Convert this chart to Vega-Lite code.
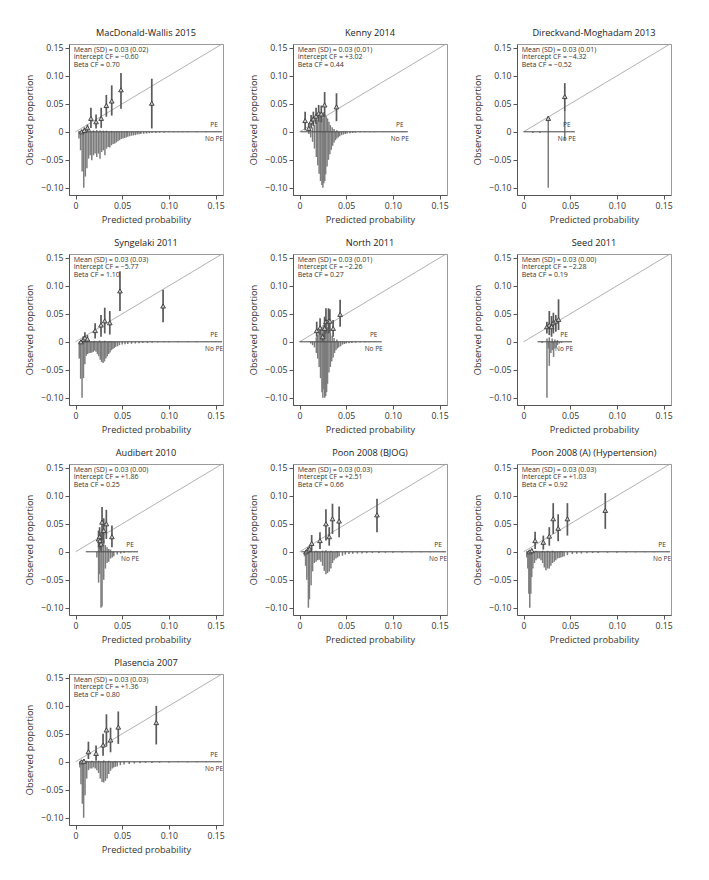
{
"$schema":"https://vega.github.io/schema/vega-lite/v6.json",
"padding":{"left":25,"top":28,"right":5,"bottom":5},
"datasets":{
"names":[
{"s":1,"study":"MacDonald-Wallis 2015"},{"s":2,"study":"Kenny 2014"},{"s":3,"study":"Direckvand-Moghadam 2013"},{"s":4,"study":"Syngelaki 2011"},{"s":5,"study":"North 2011"},{"s":6,"study":"Seed 2011"},{"s":7,"study":"Audibert 2010"},{"s":8,"study":"Poon 2008 (BJOG)"},{"s":9,"study":"Poon 2008 (A) (Hypertension)"},{"s":10,"study":"Plasencia 2007"}],
"main":[
{"s":1,"t":"s","x0":0.003,"x1":0.157,"note":"Mean (SD) = 0.03 (0.02)\nIntercept CF = −0.60\nBeta CF = 0.70"},
{"s":2,"t":"s","x0":0.001,"x1":0.116,"note":"Mean (SD) = 0.03 (0.01)\nIntercept CF = +3.02\nBeta CF = 0.44"},
{"s":3,"t":"s","x0":0.0,"x1":0.055,"note":"Mean (SD) = 0.03 (0.01)\nIntercept CF = −4.32\nBeta CF = −0.52"},
{"s":4,"t":"s","x0":0.004,"x1":0.157,"note":"Mean (SD) = 0.03 (0.03)\nIntercept CF = −5.77\nBeta CF = 1.10"},
{"s":5,"t":"s","x0":0.0,"x1":0.088,"note":"Mean (SD) = 0.03 (0.01)\nIntercept CF = −2.26\nBeta CF = 0.27"},
{"s":6,"t":"s","x0":0.015,"x1":0.052,"note":"Mean (SD) = 0.03 (0.00)\nIntercept CF = −2.28\nBeta CF = 0.19"},
{"s":7,"t":"s","x0":0.011,"x1":0.067,"note":"Mean (SD) = 0.03 (0.00)\nIntercept CF = +1.86\nBeta CF = 0.25"},
{"s":8,"t":"s","x0":0.002,"x1":0.157,"note":"Mean (SD) = 0.03 (0.03)\nIntercept CF = +2.51\nBeta CF = 0.66"},
{"s":9,"t":"s","x0":0.003,"x1":0.157,"note":"Mean (SD) = 0.03 (0.03)\nIntercept CF = +1.03\nBeta CF = 0.92"},
{"s":10,"t":"s","x0":0.004,"x1":0.157,"note":"Mean (SD) = 0.03 (0.03)\nIntercept CF = +1.36\nBeta CF = 0.80"},

{"s":1,"t":"p","x":0.0066,"y":0.0,"lo":0.0,"hi":0.004},
{"s":1,"t":"p","x":0.0095,"y":0.0024,"lo":0.0,"hi":0.008},
{"s":1,"t":"p","x":0.0128,"y":0.0072,"lo":0.0,"hi":0.013},
{"s":1,"t":"p","x":0.0165,"y":0.024,"lo":0.007,"hi":0.043},
{"s":1,"t":"p","x":0.022,"y":0.018,"lo":0.006,"hi":0.031},
{"s":1,"t":"p","x":0.0275,"y":0.024,"lo":0.007,"hi":0.043},
{"s":1,"t":"p","x":0.033,"y":0.047,"lo":0.027,"hi":0.066},
{"s":1,"t":"p","x":0.0388,"y":0.055,"lo":0.029,"hi":0.083},
{"s":1,"t":"p","x":0.0487,"y":0.075,"lo":0.041,"hi":0.105},
{"s":1,"t":"p","x":0.0817,"y":0.051,"lo":0.006,"hi":0.095},

{"s":2,"t":"p","x":0.006,"y":0.02,"lo":0.003,"hi":0.036},
{"s":2,"t":"p","x":0.0099,"y":0.006,"lo":0.0,"hi":0.015},
{"s":2,"t":"p","x":0.0124,"y":0.018,"lo":0.006,"hi":0.03},
{"s":2,"t":"p","x":0.0148,"y":0.023,"lo":0.01,"hi":0.036},
{"s":2,"t":"p","x":0.0177,"y":0.028,"lo":0.014,"hi":0.043},
{"s":2,"t":"p","x":0.0205,"y":0.033,"lo":0.018,"hi":0.048},
{"s":2,"t":"p","x":0.0233,"y":0.032,"lo":0.017,"hi":0.047},
{"s":2,"t":"p","x":0.0269,"y":0.048,"lo":0.026,"hi":0.071},
{"s":2,"t":"p","x":0.0396,"y":0.0446,"lo":0.019,"hi":0.069},

{"s":3,"t":"p","x":0.0265,"y":0.024,"lo":0.019,"hi":0.028},
{"s":3,"t":"p","x":0.0442,"y":0.063,"lo":0.036,"hi":0.087},

{"s":4,"t":"p","x":0.0058,"y":0.0,"lo":0.0,"hi":0.003},
{"s":4,"t":"p","x":0.0084,"y":0.004,"lo":0.0,"hi":0.01},
{"s":4,"t":"p","x":0.010,"y":0.007,"lo":0.0,"hi":0.017},
{"s":4,"t":"p","x":0.0127,"y":0.005,"lo":0.0,"hi":0.012},
{"s":4,"t":"p","x":0.021,"y":0.02,"lo":0.006,"hi":0.033},
{"s":4,"t":"p","x":0.0273,"y":0.03,"lo":0.009,"hi":0.048},
{"s":4,"t":"p","x":0.0313,"y":0.0375,"lo":0.015,"hi":0.061},
{"s":4,"t":"p","x":0.0367,"y":0.034,"lo":0.013,"hi":0.055},
{"s":4,"t":"p","x":0.0476,"y":0.091,"lo":0.055,"hi":0.126},
{"s":4,"t":"p","x":0.0938,"y":0.064,"lo":0.035,"hi":0.093},

{"s":5,"t":"p","x":0.0184,"y":0.02,"lo":0.009,"hi":0.036},
{"s":5,"t":"p","x":0.022,"y":0.025,"lo":0.012,"hi":0.042},
{"s":5,"t":"p","x":0.0247,"y":0.009,"lo":0.001,"hi":0.015},
{"s":5,"t":"p","x":0.0269,"y":0.024,"lo":0.006,"hi":0.045},
{"s":5,"t":"p","x":0.0283,"y":0.036,"lo":0.015,"hi":0.06},
{"s":5,"t":"p","x":0.031,"y":0.037,"lo":0.015,"hi":0.06},
{"s":5,"t":"p","x":0.0325,"y":0.037,"lo":0.016,"hi":0.058},
{"s":5,"t":"p","x":0.036,"y":0.024,"lo":0.009,"hi":0.039},
{"s":5,"t":"p","x":0.0435,"y":0.049,"lo":0.027,"hi":0.075},

{"s":6,"t":"p","x":0.025,"y":0.027,"lo":0.015,"hi":0.036},
{"s":6,"t":"p","x":0.0276,"y":0.03,"lo":0.012,"hi":0.055},
{"s":6,"t":"p","x":0.03,"y":0.027,"lo":0.009,"hi":0.046},
{"s":6,"t":"p","x":0.032,"y":0.034,"lo":0.015,"hi":0.052},
{"s":6,"t":"p","x":0.0346,"y":0.037,"lo":0.018,"hi":0.048},
{"s":6,"t":"p","x":0.0375,"y":0.04,"lo":0.021,"hi":0.076},

{"s":7,"t":"p","x":0.0247,"y":0.023,"lo":0.008,"hi":0.038},
{"s":7,"t":"p","x":0.0258,"y":0.027,"lo":0.011,"hi":0.044},
{"s":7,"t":"p","x":0.0262,"y":0.02,"lo":0.006,"hi":0.035},
{"s":7,"t":"p","x":0.0273,"y":0.014,"lo":0.002,"hi":0.026},
{"s":7,"t":"p","x":0.0284,"y":0.053,"lo":0.02,"hi":0.08},
{"s":7,"t":"p","x":0.0302,"y":0.038,"lo":0.015,"hi":0.06},
{"s":7,"t":"p","x":0.033,"y":0.05,"lo":0.023,"hi":0.075},
{"s":7,"t":"p","x":0.039,"y":0.027,"lo":0.008,"hi":0.047},

{"s":8,"t":"p","x":0.007,"y":0.0,"lo":0.0,"hi":0.003},
{"s":8,"t":"p","x":0.0088,"y":0.003,"lo":0.0,"hi":0.008},
{"s":8,"t":"p","x":0.0106,"y":0.005,"lo":0.0,"hi":0.011},
{"s":8,"t":"p","x":0.013,"y":0.015,"lo":0.002,"hi":0.03},
{"s":8,"t":"p","x":0.0219,"y":0.02,"lo":0.005,"hi":0.035},
{"s":8,"t":"p","x":0.0283,"y":0.05,"lo":0.02,"hi":0.076},
{"s":8,"t":"p","x":0.0318,"y":0.027,"lo":0.011,"hi":0.044},
{"s":8,"t":"p","x":0.0353,"y":0.059,"lo":0.032,"hi":0.086},
{"s":8,"t":"p","x":0.0424,"y":0.055,"lo":0.026,"hi":0.081},
{"s":8,"t":"p","x":0.083,"y":0.066,"lo":0.035,"hi":0.095},

{"s":9,"t":"p","x":0.0064,"y":0.0,"lo":0.0,"hi":0.003},
{"s":9,"t":"p","x":0.0088,"y":0.002,"lo":0.0,"hi":0.006},
{"s":9,"t":"p","x":0.0124,"y":0.02,"lo":0.005,"hi":0.036},
{"s":9,"t":"p","x":0.0212,"y":0.017,"lo":0.004,"hi":0.029},
{"s":9,"t":"p","x":0.0276,"y":0.028,"lo":0.011,"hi":0.044},
{"s":9,"t":"p","x":0.0318,"y":0.059,"lo":0.032,"hi":0.087},
{"s":9,"t":"p","x":0.0371,"y":0.042,"lo":0.019,"hi":0.067},
{"s":9,"t":"p","x":0.047,"y":0.059,"lo":0.029,"hi":0.087},
{"s":9,"t":"p","x":0.0876,"y":0.074,"lo":0.041,"hi":0.105},

{"s":10,"t":"p","x":0.0065,"y":0.0,"lo":0.0,"hi":0.003},
{"s":10,"t":"p","x":0.009,"y":0.001,"lo":0.0,"hi":0.005},
{"s":10,"t":"p","x":0.0138,"y":0.018,"lo":0.005,"hi":0.036},
{"s":10,"t":"p","x":0.022,"y":0.015,"lo":0.002,"hi":0.029},
{"s":10,"t":"p","x":0.0295,"y":0.03,"lo":0.011,"hi":0.05},
{"s":10,"t":"p","x":0.0331,"y":0.057,"lo":0.027,"hi":0.085},
{"s":10,"t":"p","x":0.0375,"y":0.039,"lo":0.017,"hi":0.061},
{"s":10,"t":"p","x":0.0458,"y":0.062,"lo":0.032,"hi":0.09},
{"s":10,"t":"p","x":0.0865,"y":0.07,"lo":0.031,"hi":0.1},

{"s":1,"t":"h","x":0.0037,"h":-0.012},{"s":1,"t":"h","x":0.0054,"h":-0.033},{"s":1,"t":"h","x":0.0071,"h":-0.071},{"s":1,"t":"h","x":0.0088,"h":-0.1},{"s":1,"t":"h","x":0.0105,"h":-0.08},{"s":1,"t":"h","x":0.0122,"h":-0.065},{"s":1,"t":"h","x":0.014,"h":-0.048},{"s":1,"t":"h","x":0.0157,"h":-0.042},{"s":1,"t":"h","x":0.0174,"h":-0.051},{"s":1,"t":"h","x":0.0192,"h":-0.042},{"s":1,"t":"h","x":0.0209,"h":-0.039},{"s":1,"t":"h","x":0.0227,"h":-0.045},{"s":1,"t":"h","x":0.0245,"h":-0.039},{"s":1,"t":"h","x":0.0262,"h":-0.048},{"s":1,"t":"h","x":0.028,"h":-0.036},{"s":1,"t":"h","x":0.0297,"h":-0.033},{"s":1,"t":"h","x":0.0315,"h":-0.042},{"s":1,"t":"h","x":0.0332,"h":-0.03},{"s":1,"t":"h","x":0.035,"h":-0.027},{"s":1,"t":"h","x":0.0367,"h":-0.028},{"s":1,"t":"h","x":0.0385,"h":-0.024},{"s":1,"t":"h","x":0.0402,"h":-0.022},{"s":1,"t":"h","x":0.042,"h":-0.021},{"s":1,"t":"h","x":0.0437,"h":-0.019},{"s":1,"t":"h","x":0.0455,"h":-0.017},{"s":1,"t":"h","x":0.0472,"h":-0.015},{"s":1,"t":"h","x":0.049,"h":-0.013},{"s":1,"t":"h","x":0.0508,"h":-0.012},{"s":1,"t":"h","x":0.0525,"h":-0.011},{"s":1,"t":"h","x":0.0543,"h":-0.01},{"s":1,"t":"h","x":0.056,"h":-0.009},{"s":1,"t":"h","x":0.058,"h":-0.008},{"s":1,"t":"h","x":0.06,"h":-0.007},{"s":1,"t":"h","x":0.062,"h":-0.0065},{"s":1,"t":"h","x":0.064,"h":-0.006},{"s":1,"t":"h","x":0.066,"h":-0.005},{"s":1,"t":"h","x":0.068,"h":-0.0045},{"s":1,"t":"h","x":0.07,"h":-0.004},{"s":1,"t":"h","x":0.073,"h":-0.0035},{"s":1,"t":"h","x":0.076,"h":-0.003},{"s":1,"t":"h","x":0.079,"h":-0.0025},{"s":1,"t":"h","x":0.082,"h":-0.002},{"s":1,"t":"h","x":0.086,"h":-0.002},{"s":1,"t":"h","x":0.09,"h":-0.0015},{"s":1,"t":"h","x":0.095,"h":-0.0015},{"s":1,"t":"h","x":0.1,"h":-0.001},{"s":1,"t":"h","x":0.105,"h":-0.001},{"s":1,"t":"h","x":0.11,"h":-0.001},{"s":1,"t":"h","x":0.115,"h":-0.0008},{"s":1,"t":"h","x":0.12,"h":-0.0008},{"s":1,"t":"h","x":0.13,"h":-0.0006},{"s":1,"t":"h","x":0.14,"h":-0.0006},{"s":1,"t":"h","x":0.15,"h":-0.0005},
{"s":1,"t":"h","x":0.0088,"h":0.002},{"s":1,"t":"h","x":0.0122,"h":0.0025},{"s":1,"t":"h","x":0.0157,"h":0.003},{"s":1,"t":"h","x":0.0192,"h":0.0025},{"s":1,"t":"h","x":0.0227,"h":0.003},{"s":1,"t":"h","x":0.0262,"h":0.0025},{"s":1,"t":"h","x":0.0297,"h":0.002},{"s":1,"t":"h","x":0.0332,"h":0.002},{"s":1,"t":"h","x":0.0385,"h":0.0015},{"s":1,"t":"h","x":0.045,"h":0.001},{"s":1,"t":"h","x":0.055,"h":0.001},

{"s":2,"t":"h","x":0.01,"h":-0.004},{"s":2,"t":"h","x":0.012,"h":-0.01},{"s":2,"t":"h","x":0.014,"h":-0.018},{"s":2,"t":"h","x":0.016,"h":-0.03},{"s":2,"t":"h","x":0.018,"h":-0.045},{"s":2,"t":"h","x":0.0195,"h":-0.06},{"s":2,"t":"h","x":0.021,"h":-0.075},{"s":2,"t":"h","x":0.0225,"h":-0.088},{"s":2,"t":"h","x":0.024,"h":-0.095},{"s":2,"t":"h","x":0.025,"h":-0.1},{"s":2,"t":"h","x":0.026,"h":-0.092},{"s":2,"t":"h","x":0.027,"h":-0.088},{"s":2,"t":"h","x":0.028,"h":-0.076},{"s":2,"t":"h","x":0.0295,"h":-0.062},{"s":2,"t":"h","x":0.031,"h":-0.05},{"s":2,"t":"h","x":0.0325,"h":-0.04},{"s":2,"t":"h","x":0.034,"h":-0.032},{"s":2,"t":"h","x":0.0355,"h":-0.025},{"s":2,"t":"h","x":0.037,"h":-0.019},{"s":2,"t":"h","x":0.0385,"h":-0.015},{"s":2,"t":"h","x":0.04,"h":-0.012},{"s":2,"t":"h","x":0.0415,"h":-0.01},{"s":2,"t":"h","x":0.043,"h":-0.008},{"s":2,"t":"h","x":0.045,"h":-0.006},{"s":2,"t":"h","x":0.047,"h":-0.005},{"s":2,"t":"h","x":0.049,"h":-0.004},{"s":2,"t":"h","x":0.051,"h":-0.003},{"s":2,"t":"h","x":0.054,"h":-0.0025},{"s":2,"t":"h","x":0.057,"h":-0.002},{"s":2,"t":"h","x":0.06,"h":-0.0015},{"s":2,"t":"h","x":0.065,"h":-0.001},{"s":2,"t":"h","x":0.07,"h":-0.001},{"s":2,"t":"h","x":0.075,"h":-0.0008},{"s":2,"t":"h","x":0.08,"h":-0.0006},{"s":2,"t":"h","x":0.09,"h":-0.0005},{"s":2,"t":"h","x":0.1,"h":-0.0004},{"s":2,"t":"h","x":0.11,"h":-0.0003},
{"s":2,"t":"h","x":0.014,"h":0.008},{"s":2,"t":"h","x":0.016,"h":0.012},{"s":2,"t":"h","x":0.018,"h":0.018},{"s":2,"t":"h","x":0.0195,"h":0.022},{"s":2,"t":"h","x":0.021,"h":0.026},{"s":2,"t":"h","x":0.0225,"h":0.03},{"s":2,"t":"h","x":0.024,"h":0.033},{"s":2,"t":"h","x":0.0255,"h":0.035},{"s":2,"t":"h","x":0.027,"h":0.032},{"s":2,"t":"h","x":0.0285,"h":0.028},{"s":2,"t":"h","x":0.03,"h":0.024},{"s":2,"t":"h","x":0.0315,"h":0.018},{"s":2,"t":"h","x":0.033,"h":0.012},{"s":2,"t":"h","x":0.035,"h":0.008},{"s":2,"t":"h","x":0.037,"h":0.005},{"s":2,"t":"h","x":0.04,"h":0.003},

{"s":3,"t":"h","x":0.01,"h":-0.002},{"s":3,"t":"h","x":0.0175,"h":-0.002},{"s":3,"t":"h","x":0.0265,"h":-0.1},{"s":3,"t":"h","x":0.0442,"h":-0.015},{"s":3,"t":"h","x":0.0265,"h":0.02},{"s":3,"t":"h","x":0.0442,"h":0.036},

{"s":4,"t":"h","x":0.004,"h":-0.03},{"s":4,"t":"h","x":0.0055,"h":-0.066},{"s":4,"t":"h","x":0.007,"h":-0.1},{"s":4,"t":"h","x":0.0085,"h":-0.065},{"s":4,"t":"h","x":0.01,"h":-0.04},{"s":4,"t":"h","x":0.0115,"h":-0.025},{"s":4,"t":"h","x":0.013,"h":-0.022},{"s":4,"t":"h","x":0.0145,"h":-0.02},{"s":4,"t":"h","x":0.016,"h":-0.02},{"s":4,"t":"h","x":0.0175,"h":-0.019},{"s":4,"t":"h","x":0.019,"h":-0.018},{"s":4,"t":"h","x":0.0205,"h":-0.016},{"s":4,"t":"h","x":0.022,"h":-0.018},{"s":4,"t":"h","x":0.0235,"h":-0.022},{"s":4,"t":"h","x":0.025,"h":-0.026},{"s":4,"t":"h","x":0.0265,"h":-0.032},{"s":4,"t":"h","x":0.028,"h":-0.036},{"s":4,"t":"h","x":0.0295,"h":-0.038},{"s":4,"t":"h","x":0.031,"h":-0.035},{"s":4,"t":"h","x":0.0325,"h":-0.03},{"s":4,"t":"h","x":0.034,"h":-0.026},{"s":4,"t":"h","x":0.0355,"h":-0.022},{"s":4,"t":"h","x":0.037,"h":-0.019},{"s":4,"t":"h","x":0.0385,"h":-0.015},{"s":4,"t":"h","x":0.04,"h":-0.013},{"s":4,"t":"h","x":0.0415,"h":-0.011},{"s":4,"t":"h","x":0.043,"h":-0.009},{"s":4,"t":"h","x":0.045,"h":-0.008},{"s":4,"t":"h","x":0.047,"h":-0.006},{"s":4,"t":"h","x":0.05,"h":-0.005},{"s":4,"t":"h","x":0.053,"h":-0.0045},{"s":4,"t":"h","x":0.056,"h":-0.004},{"s":4,"t":"h","x":0.06,"h":-0.0035},{"s":4,"t":"h","x":0.064,"h":-0.003},{"s":4,"t":"h","x":0.068,"h":-0.0025},{"s":4,"t":"h","x":0.072,"h":-0.002},{"s":4,"t":"h","x":0.077,"h":-0.002},{"s":4,"t":"h","x":0.082,"h":-0.0015},{"s":4,"t":"h","x":0.088,"h":-0.0012},{"s":4,"t":"h","x":0.095,"h":-0.001},{"s":4,"t":"h","x":0.1,"h":-0.001},{"s":4,"t":"h","x":0.11,"h":-0.0008},{"s":4,"t":"h","x":0.12,"h":-0.0007},{"s":4,"t":"h","x":0.13,"h":-0.0006},{"s":4,"t":"h","x":0.14,"h":-0.0005},{"s":4,"t":"h","x":0.15,"h":-0.0005},
{"s":4,"t":"h","x":0.007,"h":0.002},{"s":4,"t":"h","x":0.01,"h":0.003},{"s":4,"t":"h","x":0.013,"h":0.002},{"s":4,"t":"h","x":0.02,"h":0.002},{"s":4,"t":"h","x":0.026,"h":0.0025},{"s":4,"t":"h","x":0.031,"h":0.002},{"s":4,"t":"h","x":0.037,"h":0.0015},{"s":4,"t":"h","x":0.045,"h":0.001},

{"s":5,"t":"h","x":0.012,"h":-0.003},{"s":5,"t":"h","x":0.014,"h":-0.006},{"s":5,"t":"h","x":0.016,"h":-0.01},{"s":5,"t":"h","x":0.018,"h":-0.02},{"s":5,"t":"h","x":0.0195,"h":-0.03},{"s":5,"t":"h","x":0.021,"h":-0.045},{"s":5,"t":"h","x":0.0225,"h":-0.065},{"s":5,"t":"h","x":0.024,"h":-0.09},{"s":5,"t":"h","x":0.025,"h":-0.1},{"s":5,"t":"h","x":0.026,"h":-0.085},{"s":5,"t":"h","x":0.027,"h":-0.1},{"s":5,"t":"h","x":0.028,"h":-0.097},{"s":5,"t":"h","x":0.029,"h":-0.09},{"s":5,"t":"h","x":0.03,"h":-0.075},{"s":5,"t":"h","x":0.0315,"h":-0.055},{"s":5,"t":"h","x":0.033,"h":-0.045},{"s":5,"t":"h","x":0.0345,"h":-0.035},{"s":5,"t":"h","x":0.036,"h":-0.028},{"s":5,"t":"h","x":0.0375,"h":-0.02},{"s":5,"t":"h","x":0.039,"h":-0.015},{"s":5,"t":"h","x":0.0405,"h":-0.012},{"s":5,"t":"h","x":0.042,"h":-0.01},{"s":5,"t":"h","x":0.044,"h":-0.008},{"s":5,"t":"h","x":0.046,"h":-0.005},{"s":5,"t":"h","x":0.048,"h":-0.004},{"s":5,"t":"h","x":0.05,"h":-0.003},{"s":5,"t":"h","x":0.053,"h":-0.0025},{"s":5,"t":"h","x":0.056,"h":-0.002},{"s":5,"t":"h","x":0.06,"h":-0.0015},{"s":5,"t":"h","x":0.065,"h":-0.001},{"s":5,"t":"h","x":0.07,"h":-0.0008},{"s":5,"t":"h","x":0.075,"h":-0.0006},{"s":5,"t":"h","x":0.08,"h":-0.0005},
{"s":5,"t":"h","x":0.018,"h":0.008},{"s":5,"t":"h","x":0.0195,"h":0.012},{"s":5,"t":"h","x":0.021,"h":0.017},{"s":5,"t":"h","x":0.0225,"h":0.022},{"s":5,"t":"h","x":0.024,"h":0.027},{"s":5,"t":"h","x":0.0255,"h":0.03},{"s":5,"t":"h","x":0.027,"h":0.032},{"s":5,"t":"h","x":0.0285,"h":0.03},{"s":5,"t":"h","x":0.03,"h":0.026},{"s":5,"t":"h","x":0.0315,"h":0.021},{"s":5,"t":"h","x":0.033,"h":0.016},{"s":5,"t":"h","x":0.035,"h":0.011},{"s":5,"t":"h","x":0.037,"h":0.007},{"s":5,"t":"h","x":0.04,"h":0.004},

{"s":6,"t":"h","x":0.02,"h":-0.002},{"s":6,"t":"h","x":0.0251,"h":-0.1},{"s":6,"t":"h","x":0.0265,"h":-0.012},{"s":6,"t":"h","x":0.0276,"h":-0.043},{"s":6,"t":"h","x":0.0293,"h":-0.02},{"s":6,"t":"h","x":0.0307,"h":-0.015},{"s":6,"t":"h","x":0.0322,"h":-0.027},{"s":6,"t":"h","x":0.0336,"h":-0.012},{"s":6,"t":"h","x":0.035,"h":-0.008},{"s":6,"t":"h","x":0.0364,"h":-0.006},{"s":6,"t":"h","x":0.0382,"h":-0.003},{"s":6,"t":"h","x":0.0406,"h":-0.002},
{"s":6,"t":"h","x":0.0251,"h":0.006},{"s":6,"t":"h","x":0.0276,"h":0.008},{"s":6,"t":"h","x":0.0307,"h":0.006},{"s":6,"t":"h","x":0.0336,"h":0.004},{"s":6,"t":"h","x":0.0364,"h":0.003},

{"s":7,"t":"h","x":0.0229,"h":-0.01},{"s":7,"t":"h","x":0.0247,"h":-0.055},{"s":7,"t":"h","x":0.0258,"h":-0.04},{"s":7,"t":"h","x":0.0273,"h":-0.1},{"s":7,"t":"h","x":0.0284,"h":-0.098},{"s":7,"t":"h","x":0.0302,"h":-0.05},{"s":7,"t":"h","x":0.032,"h":-0.03},{"s":7,"t":"h","x":0.0338,"h":-0.02},{"s":7,"t":"h","x":0.0356,"h":-0.018},{"s":7,"t":"h","x":0.0375,"h":-0.012},{"s":7,"t":"h","x":0.0393,"h":-0.01},{"s":7,"t":"h","x":0.041,"h":-0.008},{"s":7,"t":"h","x":0.0447,"h":-0.005},{"s":7,"t":"h","x":0.0484,"h":-0.003},{"s":7,"t":"h","x":0.052,"h":-0.002},{"s":7,"t":"h","x":0.0575,"h":-0.001},
{"s":7,"t":"h","x":0.0247,"h":0.01},{"s":7,"t":"h","x":0.0258,"h":0.015},{"s":7,"t":"h","x":0.0273,"h":0.03},{"s":7,"t":"h","x":0.0284,"h":0.035},{"s":7,"t":"h","x":0.0302,"h":0.02},{"s":7,"t":"h","x":0.032,"h":0.012},{"s":7,"t":"h","x":0.0338,"h":0.008},{"s":7,"t":"h","x":0.0356,"h":0.005},{"s":7,"t":"h","x":0.0375,"h":0.004},

{"s":8,"t":"h","x":0.0053,"h":-0.008},{"s":8,"t":"h","x":0.0065,"h":-0.025},{"s":8,"t":"h","x":0.0078,"h":-0.05},{"s":8,"t":"h","x":0.0095,"h":-0.1},{"s":8,"t":"h","x":0.0106,"h":-0.085},{"s":8,"t":"h","x":0.0124,"h":-0.06},{"s":8,"t":"h","x":0.014,"h":-0.035},{"s":8,"t":"h","x":0.0158,"h":-0.02},{"s":8,"t":"h","x":0.0177,"h":-0.018},{"s":8,"t":"h","x":0.0194,"h":-0.015},{"s":8,"t":"h","x":0.021,"h":-0.014},{"s":8,"t":"h","x":0.0228,"h":-0.018},{"s":8,"t":"h","x":0.0247,"h":-0.025},{"s":8,"t":"h","x":0.0265,"h":-0.034},{"s":8,"t":"h","x":0.0283,"h":-0.04},{"s":8,"t":"h","x":0.03,"h":-0.038},{"s":8,"t":"h","x":0.0318,"h":-0.035},{"s":8,"t":"h","x":0.0336,"h":-0.03},{"s":8,"t":"h","x":0.0353,"h":-0.02},{"s":8,"t":"h","x":0.037,"h":-0.015},{"s":8,"t":"h","x":0.039,"h":-0.012},{"s":8,"t":"h","x":0.0407,"h":-0.01},{"s":8,"t":"h","x":0.0424,"h":-0.008},{"s":8,"t":"h","x":0.046,"h":-0.007},{"s":8,"t":"h","x":0.049,"h":-0.005},{"s":8,"t":"h","x":0.053,"h":-0.004},{"s":8,"t":"h","x":0.057,"h":-0.0035},{"s":8,"t":"h","x":0.062,"h":-0.003},{"s":8,"t":"h","x":0.067,"h":-0.003},{"s":8,"t":"h","x":0.072,"h":-0.0025},{"s":8,"t":"h","x":0.078,"h":-0.002},{"s":8,"t":"h","x":0.085,"h":-0.002},{"s":8,"t":"h","x":0.092,"h":-0.0018},{"s":8,"t":"h","x":0.1,"h":-0.0015},{"s":8,"t":"h","x":0.11,"h":-0.0012},{"s":8,"t":"h","x":0.12,"h":-0.001},{"s":8,"t":"h","x":0.13,"h":-0.001},{"s":8,"t":"h","x":0.14,"h":-0.0008},
{"s":8,"t":"h","x":0.0095,"h":0.003},{"s":8,"t":"h","x":0.0124,"h":0.003},{"s":8,"t":"h","x":0.0177,"h":0.002},{"s":8,"t":"h","x":0.0247,"h":0.002},{"s":8,"t":"h","x":0.0283,"h":0.003},{"s":8,"t":"h","x":0.0336,"h":0.002},{"s":8,"t":"h","x":0.04,"h":0.0015},{"s":8,"t":"h","x":0.05,"h":0.001},

{"s":9,"t":"h","x":0.0035,"h":-0.01},{"s":9,"t":"h","x":0.0046,"h":-0.03},{"s":9,"t":"h","x":0.0057,"h":-0.075},{"s":9,"t":"h","x":0.0067,"h":-0.1},{"s":9,"t":"h","x":0.0078,"h":-0.075},{"s":9,"t":"h","x":0.0088,"h":-0.045},{"s":9,"t":"h","x":0.01,"h":-0.03},{"s":9,"t":"h","x":0.0117,"h":-0.02},{"s":9,"t":"h","x":0.0134,"h":-0.015},{"s":9,"t":"h","x":0.0152,"h":-0.012},{"s":9,"t":"h","x":0.017,"h":-0.012},{"s":9,"t":"h","x":0.0187,"h":-0.015},{"s":9,"t":"h","x":0.0205,"h":-0.02},{"s":9,"t":"h","x":0.0223,"h":-0.028},{"s":9,"t":"h","x":0.024,"h":-0.033},{"s":9,"t":"h","x":0.0258,"h":-0.03},{"s":9,"t":"h","x":0.0276,"h":-0.03},{"s":9,"t":"h","x":0.0293,"h":-0.025},{"s":9,"t":"h","x":0.031,"h":-0.02},{"s":9,"t":"h","x":0.0329,"h":-0.018},{"s":9,"t":"h","x":0.0346,"h":-0.015},{"s":9,"t":"h","x":0.0364,"h":-0.012},{"s":9,"t":"h","x":0.0382,"h":-0.011},{"s":9,"t":"h","x":0.04,"h":-0.01},{"s":9,"t":"h","x":0.0418,"h":-0.009},{"s":9,"t":"h","x":0.0435,"h":-0.008},{"s":9,"t":"h","x":0.047,"h":-0.006},{"s":9,"t":"h","x":0.0523,"h":-0.004},{"s":9,"t":"h","x":0.057,"h":-0.0035},{"s":9,"t":"h","x":0.062,"h":-0.003},{"s":9,"t":"h","x":0.068,"h":-0.0025},{"s":9,"t":"h","x":0.074,"h":-0.0022},{"s":9,"t":"h","x":0.08,"h":-0.002},{"s":9,"t":"h","x":0.09,"h":-0.0017},{"s":9,"t":"h","x":0.1,"h":-0.0015},{"s":9,"t":"h","x":0.11,"h":-0.0012},{"s":9,"t":"h","x":0.12,"h":-0.001},{"s":9,"t":"h","x":0.13,"h":-0.001},{"s":9,"t":"h","x":0.14,"h":-0.0008},
{"s":9,"t":"h","x":0.0067,"h":0.003},{"s":9,"t":"h","x":0.0088,"h":0.002},{"s":9,"t":"h","x":0.0134,"h":0.002},{"s":9,"t":"h","x":0.0205,"h":0.002},{"s":9,"t":"h","x":0.0258,"h":0.002},{"s":9,"t":"h","x":0.031,"h":0.002},{"s":9,"t":"h","x":0.04,"h":0.0015},{"s":9,"t":"h","x":0.05,"h":0.001},

{"s":10,"t":"h","x":0.0047,"h":-0.01},{"s":10,"t":"h","x":0.0058,"h":-0.04},{"s":10,"t":"h","x":0.0073,"h":-0.075},{"s":10,"t":"h","x":0.0087,"h":-0.1},{"s":10,"t":"h","x":0.0102,"h":-0.06},{"s":10,"t":"h","x":0.012,"h":-0.03},{"s":10,"t":"h","x":0.0138,"h":-0.015},{"s":10,"t":"h","x":0.0156,"h":-0.012},{"s":10,"t":"h","x":0.0175,"h":-0.012},{"s":10,"t":"h","x":0.0193,"h":-0.01},{"s":10,"t":"h","x":0.0211,"h":-0.012},{"s":10,"t":"h","x":0.0229,"h":-0.015},{"s":10,"t":"h","x":0.0247,"h":-0.02},{"s":10,"t":"h","x":0.0265,"h":-0.03},{"s":10,"t":"h","x":0.0284,"h":-0.036},{"s":10,"t":"h","x":0.0302,"h":-0.037},{"s":10,"t":"h","x":0.032,"h":-0.034},{"s":10,"t":"h","x":0.0338,"h":-0.03},{"s":10,"t":"h","x":0.0356,"h":-0.022},{"s":10,"t":"h","x":0.0375,"h":-0.016},{"s":10,"t":"h","x":0.0393,"h":-0.012},{"s":10,"t":"h","x":0.041,"h":-0.01},{"s":10,"t":"h","x":0.0428,"h":-0.009},{"s":10,"t":"h","x":0.0447,"h":-0.008},{"s":10,"t":"h","x":0.048,"h":-0.006},{"s":10,"t":"h","x":0.052,"h":-0.005},{"s":10,"t":"h","x":0.0575,"h":-0.004},{"s":10,"t":"h","x":0.063,"h":-0.003},{"s":10,"t":"h","x":0.069,"h":-0.0025},{"s":10,"t":"h","x":0.075,"h":-0.002},{"s":10,"t":"h","x":0.082,"h":-0.002},{"s":10,"t":"h","x":0.09,"h":-0.0015},{"s":10,"t":"h","x":0.1,"h":-0.0012},{"s":10,"t":"h","x":0.11,"h":-0.001},{"s":10,"t":"h","x":0.12,"h":-0.001},{"s":10,"t":"h","x":0.13,"h":-0.0008},{"s":10,"t":"h","x":0.14,"h":-0.0008},
{"s":10,"t":"h","x":0.0087,"h":0.003},{"s":10,"t":"h","x":0.012,"h":0.002},{"s":10,"t":"h","x":0.0175,"h":0.002},{"s":10,"t":"h","x":0.0247,"h":0.002},{"s":10,"t":"h","x":0.0302,"h":0.0025},{"s":10,"t":"h","x":0.0356,"h":0.002},{"s":10,"t":"h","x":0.0428,"h":0.0015},{"s":10,"t":"h","x":0.052,"h":0.001}
]},
"data":{"name":"main"},
"transform":[{"lookup":"s","from":{"data":{"name":"names"},"key":"s","fields":["study"]}}],
"facet":{"field":"study","type":"nominal","sort":["MacDonald-Wallis 2015","Kenny 2014","Direckvand-Moghadam 2013","Syngelaki 2011","North 2011","Seed 2011","Audibert 2010","Poon 2008 (BJOG)","Poon 2008 (A) (Hypertension)","Plasencia 2007"],
 "header":{"title":null,"labelFont":"Open Sans","labelFontSize":9.2,"labelColor":"#222","labelPadding":5}},
"columns":3,
"spacing":{"row":59,"column":70},
"bounds":"flush",
"resolve":{"axis":{"x":"independent","y":"independent"}},
"spec":{
 "width":154,"height":151,
 "layer":[
  {"transform":[{"filter":"datum.t==='h'"}],
   "mark":{"type":"rule","strokeWidth":1.5,"color":"#7c7c7c"},
   "encoding":{
    "x":{"field":"x","type":"quantitative","scale":{"domain":[-0.007,0.158],"nice":false,"zero":false},"title":"Predicted probability","axis":{"values":[0,0.05,0.1,0.15],"labelExpr":"datum.value===0?'0':format(datum.value,'.2f')","grid":false}},
    "y":{"field":"h","type":"quantitative","scale":{"domain":[-0.113,0.157],"nice":false,"zero":false},"title":"Observed proportion","axis":{"values":[-0.1,-0.05,0,0.05,0.1,0.15],"labelExpr":"datum.value===0?'0':format(datum.value,'.2f')","grid":false}},
    "y2":{"datum":0}}},
  {"transform":[{"filter":"datum.t==='s'"}],
   "mark":{"type":"rule","strokeWidth":0.9,"color":"#a8a8a8"},
   "encoding":{
    "x":{"datum":0,"type":"quantitative","scale":{"domain":[-0.007,0.158],"nice":false,"zero":false},"title":"Predicted probability","axis":{"values":[0,0.05,0.1,0.15],"labelExpr":"datum.value===0?'0':format(datum.value,'.2f')","grid":false}},
    "y":{"datum":0,"type":"quantitative","scale":{"domain":[-0.113,0.157],"nice":false,"zero":false},"title":"Observed proportion","axis":{"values":[-0.1,-0.05,0,0.05,0.1,0.15],"labelExpr":"datum.value===0?'0':format(datum.value,'.2f')","grid":false}},
    "x2":{"datum":0.157},"y2":{"datum":0.157}}},
  {"transform":[{"filter":"datum.t==='s'"}],
   "mark":{"type":"rule","strokeWidth":1,"color":"#444"},
   "encoding":{
    "x":{"field":"x0","type":"quantitative","scale":{"domain":[-0.007,0.158],"nice":false,"zero":false},"title":"Predicted probability","axis":{"values":[0,0.05,0.1,0.15],"labelExpr":"datum.value===0?'0':format(datum.value,'.2f')","grid":false}},
    "x2":{"field":"x1"},
    "y":{"datum":0,"type":"quantitative","scale":{"domain":[-0.113,0.157],"nice":false,"zero":false},"title":"Observed proportion","axis":{"values":[-0.1,-0.05,0,0.05,0.1,0.15],"labelExpr":"datum.value===0?'0':format(datum.value,'.2f')","grid":false}}}},
  {"transform":[{"filter":"datum.t==='p'"}],
   "mark":{"type":"rule","strokeWidth":1.7,"color":"#5a5a5a"},
   "encoding":{
    "x":{"field":"x","type":"quantitative","scale":{"domain":[-0.007,0.158],"nice":false,"zero":false},"title":"Predicted probability","axis":{"values":[0,0.05,0.1,0.15],"labelExpr":"datum.value===0?'0':format(datum.value,'.2f')","grid":false}},
    "y":{"field":"lo","type":"quantitative","scale":{"domain":[-0.113,0.157],"nice":false,"zero":false},"title":"Observed proportion","axis":{"values":[-0.1,-0.05,0,0.05,0.1,0.15],"labelExpr":"datum.value===0?'0':format(datum.value,'.2f')","grid":false}},
    "y2":{"field":"hi"}}},
  {"transform":[{"filter":"datum.t==='p'"}],
   "mark":{"type":"point","shape":"triangle-up","size":22,"filled":true,"fill":"#c8c8c8","stroke":"#3a3a3a","strokeWidth":0.9,"opacity":1},
   "encoding":{
    "x":{"field":"x","type":"quantitative","scale":{"domain":[-0.007,0.158],"nice":false,"zero":false},"title":"Predicted probability","axis":{"values":[0,0.05,0.1,0.15],"labelExpr":"datum.value===0?'0':format(datum.value,'.2f')","grid":false}},
    "y":{"field":"y","type":"quantitative","scale":{"domain":[-0.113,0.157],"nice":false,"zero":false},"title":"Observed proportion","axis":{"values":[-0.1,-0.05,0,0.05,0.1,0.15],"labelExpr":"datum.value===0?'0':format(datum.value,'.2f')","grid":false}}}},
  {"transform":[{"filter":"datum.t==='s'"}],
   "mark":{"type":"text","text":"PE","font":"Open Sans","fontSize":6.5,"fill":"#333","align":"center","baseline":"middle","dx":-8,"dy":-7},
   "encoding":{
    "x":{"field":"x1","type":"quantitative","scale":{"domain":[-0.007,0.158],"nice":false,"zero":false},"title":"Predicted probability","axis":{"values":[0,0.05,0.1,0.15],"labelExpr":"datum.value===0?'0':format(datum.value,'.2f')","grid":false}},
    "y":{"datum":0,"type":"quantitative","scale":{"domain":[-0.113,0.157],"nice":false,"zero":false},"title":"Observed proportion","axis":{"values":[-0.1,-0.05,0,0.05,0.1,0.15],"labelExpr":"datum.value===0?'0':format(datum.value,'.2f')","grid":false}}}},
  {"transform":[{"filter":"datum.t==='s'"}],
   "mark":{"type":"text","text":"No PE","font":"Open Sans","fontSize":6.5,"fill":"#333","align":"center","baseline":"middle","dx":-8,"dy":7},
   "encoding":{
    "x":{"field":"x1","type":"quantitative","scale":{"domain":[-0.007,0.158],"nice":false,"zero":false},"title":"Predicted probability","axis":{"values":[0,0.05,0.1,0.15],"labelExpr":"datum.value===0?'0':format(datum.value,'.2f')","grid":false}},
    "y":{"datum":0,"type":"quantitative","scale":{"domain":[-0.113,0.157],"nice":false,"zero":false},"title":"Observed proportion","axis":{"values":[-0.1,-0.05,0,0.05,0.1,0.15],"labelExpr":"datum.value===0?'0':format(datum.value,'.2f')","grid":false}}}},
  {"transform":[{"filter":"datum.t==='s'"}],
   "mark":{"type":"text","font":"Open Sans","fontSize":7,"fill":"#333","align":"left","baseline":"top","lineBreak":"\n","lineHeight":7.6},
   "encoding":{
    "text":{"field":"note"},
    "x":{"datum":-0.002,"type":"quantitative","scale":{"domain":[-0.007,0.158],"nice":false,"zero":false},"title":"Predicted probability","axis":{"values":[0,0.05,0.1,0.15],"labelExpr":"datum.value===0?'0':format(datum.value,'.2f')","grid":false}},
    "y":{"datum":0.154,"type":"quantitative","scale":{"domain":[-0.113,0.157],"nice":false,"zero":false},"title":"Observed proportion","axis":{"values":[-0.1,-0.05,0,0.05,0.1,0.15],"labelExpr":"datum.value===0?'0':format(datum.value,'.2f')","grid":false}}}}
 ]},
"config":{
 "font":"Open Sans",
 "view":{"stroke":"#9a9a9a","strokeWidth":1},
 "axis":{"domainColor":"#555","tickColor":"#555","labelColor":"#333","titleColor":"#333","labelFont":"Open Sans","titleFont":"Open Sans","labelFontSize":8.7,"titleFontSize":9.2,"titleFontWeight":"normal","tickSize":4,"labelPadding":2,"titlePadding":6}
}
}
